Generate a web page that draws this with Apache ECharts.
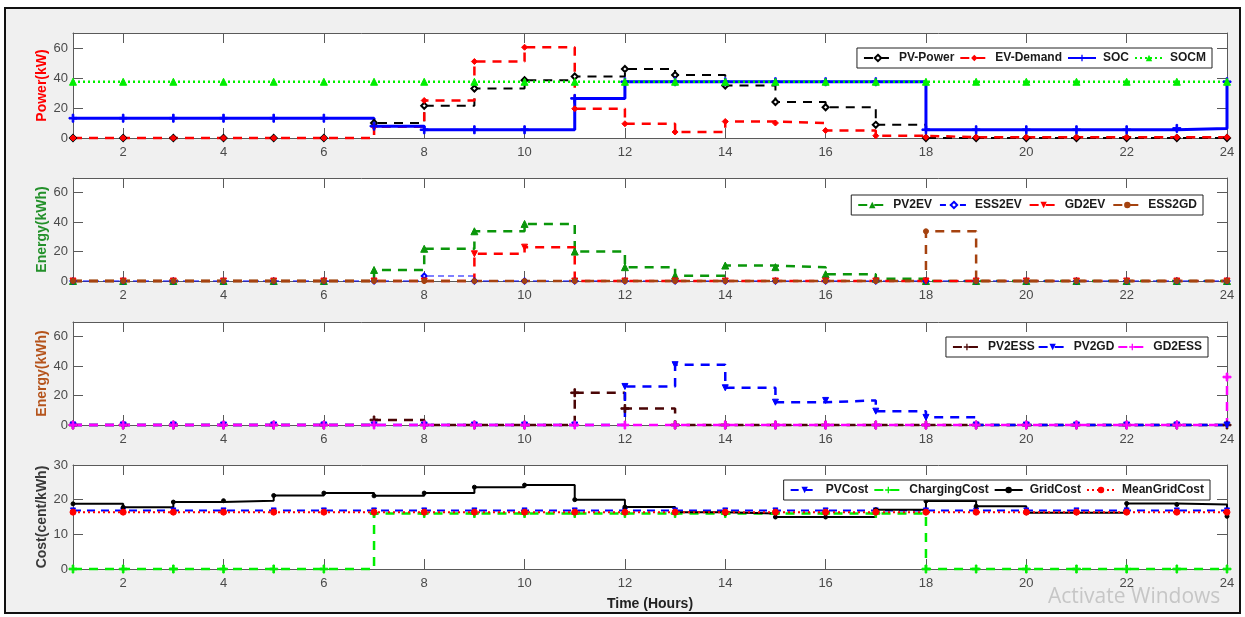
<!DOCTYPE html>
<html><head><meta charset="utf-8">
<script src="https://cdn.jsdelivr.net/npm/echarts@6/dist/echarts.min.js"></script>
<style>html,body{margin:0;padding:0;background:#fff}#c{width:1245px;height:617px}</style>
</head><body><div id="c"></div>
<script>
// ---------- data ----------
const hours = [1,2,3,4,5,6,7,8,9,10,11,12,13,14,15,16,17,18,19,20,21,22,23,24];
const xTickValues = [2,4,6,8,10,12,14,16,18,20,22,24];
const yTicksPower = [0,20,40,60];
const yTicksEnergy = [0,20,40,60];
const yTicksCost = [0,10,20,30];

// Panel 1: Power (kW)
const pvPower   = [0,0,0,0,0,0,10,21.5,33,38.5,41,46,42,35,24,20.5,8.8,0,0,0,0,0,0,0];
const evDemand  = [0,0,0,0,0,0,7.5,25,51,60.5,19.5,9.5,4,11,10,5,1.5,0.5,0.5,0.5,0.5,0.5,0.5,0.5];
const soc       = [13.2,13.2,13.2,13.2,13.2,13.2,7.9,5.5,5.5,5.5,26.4,37.5,37.5,37.5,37.5,37.5,37.5,5.5,5.5,5.5,5.5,5.5,6.4,37.5];
const socm      = [37.5,37.5,37.5,37.5,37.5,37.5,37.5,37.5,37.5,37.5,37.5,37.5,37.5,37.5,37.5,37.5,37.5,37.5,37.5,37.5,37.5,37.5,37.5,37.5];

// Panel 2: Energy (kWh)
const pv2ev     = [0,0,0,0,0,0,7.5,21.9,33.8,38.8,20,9.4,3.6,10.5,9.4,4.6,1.6,0,0,0,0,0,0,0];
const ess2ev    = [0,0,0,0,0,0,0,3.4,0,0,0,0,0,0,0,0,0,0,0,0,0,0,0,0];
const gd2ev     = [0,0,0,0,0,0,0,0,18.5,23,0,0,0,0,0,0,0,0,0,0,0,0,0,0];
const ess2gd    = [0,0,0,0,0,0,0,0,0,0,0,0,0,0,0,0,0,33.8,0,0,0,0,0,0];

// Panel 3: Energy (kWh)
const pv2ess    = [0,0,0,0,0,0,3.4,0,0,0,21.9,11.2,0,0,0,0,0,0,0,0,0,0,0,0];
const pv2gd     = [0,0,0,0,0,0,0,0,0,0,0,26.2,41,25.3,15.5,16.7,9.4,5.2,0,0,0,0,0,0];
const gd2ess    = [0,0,0,0,0,0,0,0,0,0,0,0,0,0,0,0,0,0,0,0,0,0,0,32.6];

// Panel 4: Cost (cent/kWh)
const pvCost       = [16.9,16.9,16.9,16.9,16.9,16.9,16.9,16.9,16.9,16.9,16.9,16.9,16.9,16.9,16.9,16.9,16.9,16.9,16.9,16.9,16.9,16.9,16.9,16.9];
const chargingCost = [0,0,0,0,0,0,16,16,16,16,16,16,16,16,16,16,16,0,0,0,0,0,0,0];
const gridCost     = [18.8,17.8,19.3,19.7,21.2,21.9,21.1,21.9,23.6,24.2,20,17.9,16.4,16,15,15,17.1,19.6,18.1,16.2,16.2,18.9,18.6,15.2];
const meanGridCost = [16.4,16.4,16.4,16.4,16.4,16.4,16.4,16.4,16.4,16.4,16.4,16.4,16.4,16.4,16.4,16.4,16.4,16.4,16.4,16.4,16.4,16.4,16.4,16.4];

// ---------- chart ----------
const PLUS = 'path://M4,0 L6,0 L6,4 L10,4 L10,6 L6,6 L6,10 L4,10 L4,6 L0,6 L0,4 L4,4 Z';
const DOWNTRI = 'path://M0,0 L10,0 L5,9 Z';
const pairs = arr => hours.map((h, i) => [h, arr[i]]);

const panels = [
  {top: 33, height: 105, max: 70, ticks: yTicksPower, name: 'Power(kW)', nameColor: '#ff0000'},
  {top: 178, height: 103, max: 70, ticks: yTicksEnergy, name: 'Energy(kWh)', nameColor: '#23902a'},
  {top: 322, height: 103, max: 70, ticks: yTicksEnergy, name: 'Energy(kWh)', nameColor: '#b5541c'},
  {top: 465, height: 104, max: 30, ticks: yTicksCost, name: 'Cost(cent/kWh)', nameColor: '#3a3a3a'}
];

const AX = '#5a5a5a';
const LBL = {color: '#4a4a4a', fontSize: 13, fontFamily: 'Liberation Sans, Arial, sans-serif'};

const grid = [], xAxis = [], yAxis = [];
panels.forEach((p, i) => {
  grid.push({left: 73, width: 1154, top: p.top, height: p.height, show: true,
    backgroundColor: '#ffffff', borderWidth: 0, containLabel: false});
  const xb = {type: 'value', gridIndex: i, position: 'bottom', min: 1, max: 24,
    axisLine: {show: true, onZero: false, lineStyle: {color: AX, width: 1}},
    axisTick: {show: true, inside: true, length: 10, customValues: xTickValues, lineStyle: {color: AX}},
    axisLabel: Object.assign({show: true, margin: 8, customValues: xTickValues}, LBL),
    splitLine: {show: false}};
  if (i === 3) {
    xb.name = 'Time (Hours)';
    xb.nameLocation = 'middle';
    xb.nameGap = 28;
    xb.nameMoveOverlap = false;
    xb.nameTextStyle = {color: '#222', fontSize: 14, fontWeight: 'bold', fontFamily: 'Liberation Sans, Arial, sans-serif'};
  }
  xAxis.push(xb);
  xAxis.push({type: 'value', gridIndex: i, position: 'top', min: 1, max: 24,
    axisLine: {show: true, onZero: false, lineStyle: {color: AX, width: 1}},
    axisTick: {show: true, inside: true, length: 10, customValues: xTickValues, lineStyle: {color: AX}},
    axisLabel: {show: false}, splitLine: {show: false}});
  yAxis.push({type: 'value', gridIndex: i, position: 'left', min: 0, max: p.max,
    axisLine: {show: true, onZero: false, lineStyle: {color: AX, width: 1}},
    axisTick: {show: true, inside: true, length: 10, customValues: p.ticks, lineStyle: {color: AX}},
    axisLabel: Object.assign({show: true, margin: 5, customValues: p.ticks}, LBL),
    splitLine: {show: false},
    name: p.name, nameLocation: 'middle', nameGap: 24, nameRotate: 90, nameMoveOverlap: false,
    nameTextStyle: {color: p.nameColor, fontSize: 14, fontWeight: 'bold', fontFamily: 'Liberation Sans, Arial, sans-serif'}});
  yAxis.push({type: 'value', gridIndex: i, position: 'right', min: 0, max: p.max,
    axisLine: {show: true, onZero: false, lineStyle: {color: AX, width: 1}},
    axisTick: {show: true, inside: true, length: 10, customValues: p.ticks, lineStyle: {color: AX}},
    axisLabel: {show: false}, splitLine: {show: false}});
});

function S(name, arr, gi, color, width, dash, symbol, size) {
  return {name: name, type: 'line', step: 'end', data: pairs(arr),
    xAxisIndex: gi * 2, yAxisIndex: gi * 2,
    symbol: symbol, symbolSize: size, showSymbol: true, showAllSymbol: true,
    itemStyle: {color: color, borderColor: color},
    lineStyle: {color: color, width: width, type: dash},
    animation: false, silent: true, clip: false};
}
const DASH = [9, 7], DOT = [2, 3];
const series = [
  S('PV-Power', pvPower, 0, '#000000', 2, DASH, 'emptyDiamond', 6),
  S('EV-Demand', evDemand, 0, '#ff0000', 2.5, DASH, 'diamond', 6),
  S('SOC', soc, 0, '#0000ff', 3, 'solid', PLUS, 8),
  S('SOCM', socm, 0, '#00ee00', 2.5, DOT, 'triangle', 7),

  S('PV2EV', pv2ev, 1, '#0a960a', 2.5, DASH, 'triangle', 7),
  S('ESS2EV', ess2ev, 1, '#0000ff', 1.2, [6, 4], 'emptyDiamond', 5),
  S('GD2EV', gd2ev, 1, '#ff0000', 2.5, DASH, DOWNTRI, 6),
  S('ESS2GD', ess2gd, 1, '#a5420f', 2.5, DASH, 'circle', 5),

  S('PV2ESS', pv2ess, 2, '#4a0505', 2.5, DASH, PLUS, 8),
  S('PV2GD', pv2gd, 2, '#0000ff', 2.5, DASH, DOWNTRI, 6),
  S('GD2ESS', gd2ess, 2, '#ff00ff', 2.5, DASH, PLUS, 8),

  S('PVCost', pvCost, 3, '#0000ff', 2, [8, 6], DOWNTRI, 5),
  S('ChargingCost', chargingCost, 3, '#00ee00', 2.5, DASH, PLUS, 8),
  S('GridCost', gridCost, 3, '#000000', 2, 'solid', 'circle', 4),
  S('MeanGridCost', meanGridCost, 3, '#ff0000', 2, DOT, 'circle', 6)
];

function L(names, right, top, gap) {
  return {data: names, right: right, top: top, orient: 'horizontal',
    backgroundColor: '#ffffff', borderColor: '#222', borderWidth: 1, borderRadius: 0,
    padding: [4, 6], itemGap: gap, itemWidth: 28, itemHeight: 8, selectedMode: false,
    textStyle: {color: '#1a1a1a', fontSize: 12, fontWeight: 'bold', fontFamily: 'Liberation Sans, Arial, sans-serif', padding: [0, 0, 0, 2]}};
}
const legend = [
  L(['PV-Power', 'EV-Demand', 'SOC', 'SOCM'], 33, 48, 5),
  L(['PV2EV', 'ESS2EV', 'GD2EV', 'ESS2GD'], 42, 195, 7),
  L(['PV2ESS', 'PV2GD', 'GD2ESS'], 37, 337, 3),
  L(['PVCost', 'ChargingCost', 'GridCost', 'MeanGridCost'], 35, 480, 5)
];

const chart = echarts.init(document.getElementById('c'), null, {renderer: 'canvas'});
chart.setOption({
  backgroundColor: '#ffffff',
  animation: false,
  graphic: [
    {type: 'rect', z: -10, shape: {x: 5, y: 8, width: 1235, height: 605},
      style: {fill: '#f0f0f0', stroke: '#111', lineWidth: 2}},
    {type: 'text', z: 100, left: 1048, top: 587,
      style: {text: 'Activate Windows', fill: '#c6c6c6', font: '21px "Open Sans", "Liberation Sans", sans-serif'}}
  ],
  grid: grid, xAxis: xAxis, yAxis: yAxis, legend: legend, series: series
});
</script></body></html>
